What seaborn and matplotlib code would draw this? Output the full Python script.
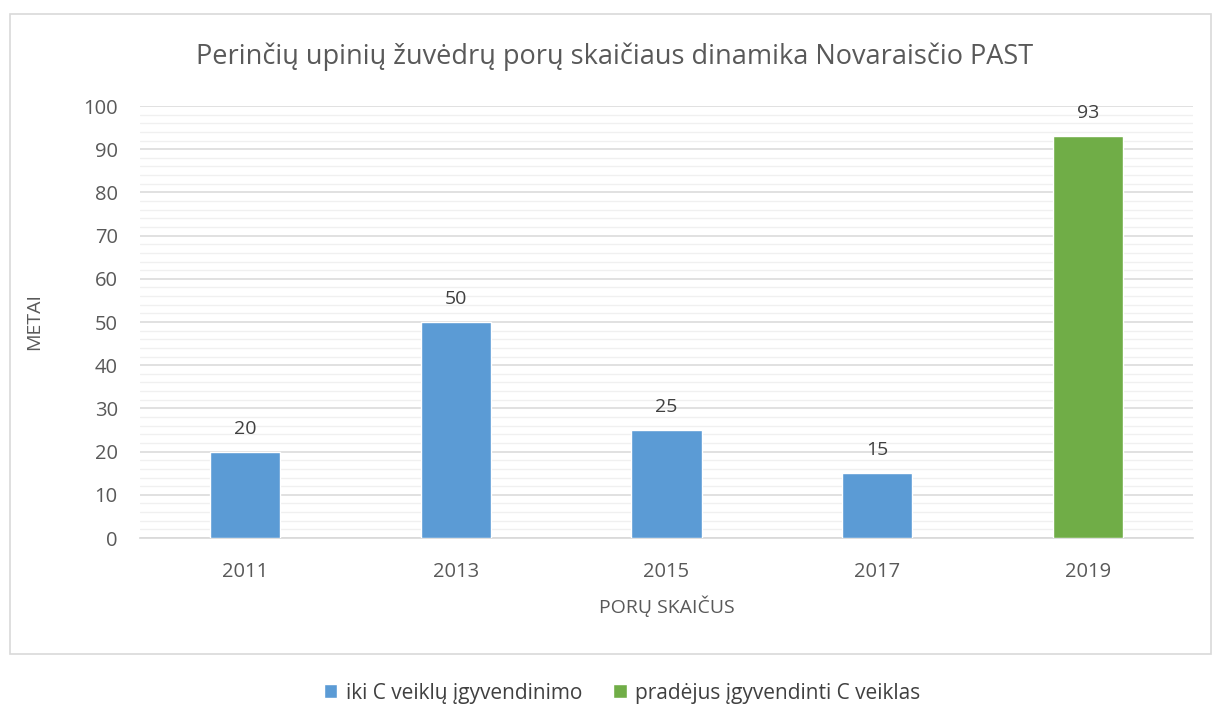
import pandas as pd
import seaborn as sns
import numpy as np
import matplotlib.pyplot as plt
from matplotlib.patches import Rectangle
from matplotlib.ticker import MultipleLocator

years = ['2011', '2013', '2015', '2017', '2019']
pairs = [20, 50, 25, 15, 93]
stage = ['iki C veiklų įgyvendinimo', 'iki C veiklų įgyvendinimo', 'iki C veiklų įgyvendinimo',
         'iki C veiklų įgyvendinimo', 'pradėjus įgyvendinti C veiklas']
colors = {'iki C veiklų įgyvendinimo': '#5B9BD5', 'pradėjus įgyvendinti C veiklas': '#70AD47'}

data = pd.DataFrame({'year': years, 'pairs': pairs, 'stage': stage})

sns.set_theme(style="white")
plt.rcParams['font.family'] = ['Open Sans', 'DejaVu Sans']

fig = plt.figure(figsize=(12.12, 7.07), dpi=100)
# chart frame
fig.patches.append(Rectangle((10/1212, 1-654/707), 1201/1212, 640/707, transform=fig.transFigure,
                             fill=False, edgecolor='#D9D9D9', linewidth=1.2, zorder=0))
ax = fig.add_axes([140/1212, 1-538/707, 1053/1212, 432/707])

sns.barplot(data=data, x='year', y='pairs', hue='stage', palette=colors, dodge=False,
            width=0.333, ax=ax, legend=True, saturation=1, zorder=3)

for c in ax.containers:
    labels = [f'{v:.0f}' if v > 0 else '' for v in c.datavalues]
    ax.bar_label(c, labels=labels, padding=10, fontsize=14, color='#404040')

ax.set_ylim(0, 100)
ax.yaxis.set_major_locator(MultipleLocator(10))
ax.yaxis.set_minor_locator(MultipleLocator(2))
ax.grid(which='major', axis='y', color='#D9D9D9', linewidth=1.1, zorder=0)
ax.grid(which='minor', axis='y', color='#F0F0F0', linewidth=1.0, zorder=0)
ax.set_axisbelow(True)
for s in ['top', 'right', 'left']:
    ax.spines[s].set_visible(False)
ax.spines['bottom'].set_color('#D9D9D9')
ax.tick_params(axis='both', labelsize=14.5, colors='#595959', length=0)
ax.tick_params(axis='y', pad=16)
ax.tick_params(axis='x', pad=17)

ax.set_xlabel('PORŲ SKAIČUS', fontsize=14, color='#595959', labelpad=10)
ax.set_ylabel('METAI', fontsize=14, color='#595959', labelpad=29)
fig.text(615/1212, 1-57/707, 'Perinčių upinių žuvėdrų porų skaičiaus dinamika Novaraisčio PAST',
         fontsize=19.5, color='#595959', ha='center', va='center')

handles, labs = ax.get_legend_handles_labels()
ax.get_legend().remove()
fig.legend(handles, labs, loc='center', bbox_to_anchor=(622/1212, 1-693/707), ncol=2, frameon=False,
           fontsize=15, handlelength=0.65, handleheight=0.65, handletextpad=0.4, columnspacing=1.5,
           labelcolor='#404040')

fig.savefig('out.png', dpi=100)
